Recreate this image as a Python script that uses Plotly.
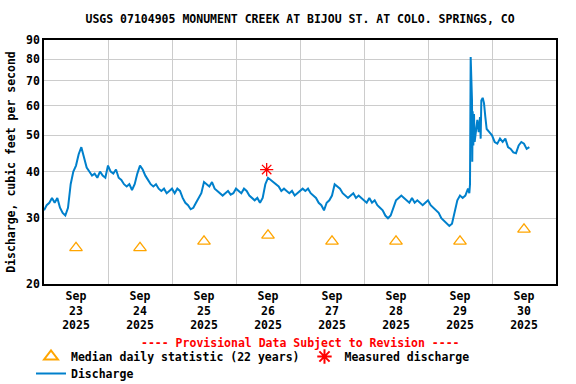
import numpy as np
import pandas as pd
import plotly.graph_objects as go

# ---- Data ----
base_time = pd.Timestamp("2025-09-23 00:00")

# hours after Sep 23 00:00 for each discharge reading
discharge_hours = (list(range(160))
                   + [159.5, 159.75, 160.0, 160.25, 160.5, 160.6, 160.75, 161.0, 161.25,
                      161.5, 162, 162.5, 163, 163.5, 163.75, 164, 164.5, 165, 165.5]
                   + list(range(166, 183)))

discharge_cfs = [
    31.5, 32.5, 33, 34, 33, 34, 32, 31, 30.5, 32,
    37, 40, 41.5, 44.5, 46.5, 44, 41, 40, 39, 39.5,
    38.5, 40, 39, 38.5, 41.5, 40, 39.5, 40.5, 38.5, 38,
    37, 36.5, 37, 35.7, 37, 39.5, 41.5, 40.5, 39, 38,
    37, 36.5, 37, 36, 35.5, 36, 35, 35.5, 36, 35,
    36, 35.5, 34, 33, 32.5, 31.7, 32, 33, 34, 35,
    37.5, 37, 36.5, 37.5, 36, 35.5, 35, 34.5, 35, 35.5,
    34.7, 35, 36, 35.5, 35, 36, 35.5, 34.5, 34, 33.5,
    34, 33, 34, 37, 38.5, 38, 37.5, 37, 36.5, 35.5,
    36, 35.5, 35, 35.5, 34.5, 35, 35.5, 36, 35.5, 36,
    35, 34.5, 34, 33, 32.5, 31.5, 33, 33.5, 34.5, 37,
    36.5, 36, 35, 34.5, 34, 34.5, 35, 34, 34.5, 34,
    33.5, 33, 34, 33, 33.5, 32.5, 32, 31.5, 30.5, 30,
    30.5, 32, 33.5, 34, 34.5, 34, 33.5, 33, 34, 33,
    33.5, 33, 32.5, 33, 33.5, 32.5, 32, 31.5, 31, 30,
    29.5, 29, 28.6, 29, 31, 33.5, 34.5, 34, 34.5, 36,
    # storm spike (sub-hourly)
    35, 37, 81, 66, 62, 42.5, 58, 47, 57, 48,
    52, 55, 51, 56, 49, 62, 63, 61, 56,
    # recession
    52, 51, 50, 48, 47.5, 49, 48, 49, 46.5, 46,
    45, 44.8, 47, 48, 47.5, 46, 46.5,
]

median_dates = ["2025-09-23 12:00", "2025-09-24 12:00", "2025-09-25 12:00", "2025-09-26 12:00",
                "2025-09-27 12:00", "2025-09-28 12:00", "2025-09-29 12:00", "2025-09-30 12:00"]
median_cfs = [25, 25, 26, 27, 26, 26, 26, 28]

measured_dates = ["2025-09-26 11:30"]
measured_cfs = [40.5]

label_dates = median_dates
label_text = ["Sep<br>23<br>2025", "Sep<br>24<br>2025", "Sep<br>25<br>2025", "Sep<br>26<br>2025",
              "Sep<br>27<br>2025", "Sep<br>28<br>2025", "Sep<br>29<br>2025", "Sep<br>30<br>2025"]
grid_dates = ["2025-09-23", "2025-09-24", "2025-09-25", "2025-09-26", "2025-09-27",
              "2025-09-28", "2025-09-29", "2025-09-30", "2025-10-01"]
y_ticks = [20, 30, 40, 50, 60, 70, 80, 90]

discharge_time = base_time + pd.to_timedelta(discharge_hours, unit="h")

FONT = "DejaVu Sans Mono"
fig = go.Figure()

fig.add_trace(go.Scatter(
    x=median_dates, y=median_cfs, mode="markers",
    name="Median daily statistic (22 years)", legend="legend",
    marker=dict(symbol="triangle-up-open", size=11, color="#FFA500", line=dict(width=1.3, color="#FFA500")),
))
fig.add_trace(go.Scatter(
    x=measured_dates, y=measured_cfs, mode="markers",
    name="Measured discharge", legend="legend",
    marker=dict(symbol="asterisk-open", size=11, color="red", line=dict(width=1.3, color="red")),
))
fig.add_trace(go.Scatter(
    x=discharge_time, y=discharge_cfs, mode="lines",
    name="Discharge", legend="legend2",
    line=dict(color="#0080CC", width=2),
))

legend_font = dict(family=FONT, size=11.5, color="black", weight="bold")
fig.update_layout(
    width=576, height=384,
    margin=dict(l=44, r=20, t=40, b=100, autoexpand=False),
    plot_bgcolor="white", paper_bgcolor="white",
    font=dict(family=FONT, size=11.5, color="black"),
    title=dict(text="<b>USGS 07104905 MONUMENT CREEK AT BIJOU ST. AT COLO. SPRINGS, CO</b>",
               x=0.521, xanchor="center", y=1 - 19 / 384, yanchor="middle",
               font=dict(family=FONT, size=11.5, color="black")),
    showlegend=True,
    legend=dict(orientation="h", xref="container", yref="container",
                x=31 / 576, xanchor="left", y=1 - 342 / 384, yanchor="top",
                font=legend_font, traceorder="normal", bgcolor="rgba(0,0,0,0)",
                itemsizing="constant"),
    legend2=dict(orientation="h", xref="container", yref="container",
                 x=31 / 576, xanchor="left", y=1 - 359 / 384, yanchor="top",
                 font=legend_font, bgcolor="rgba(0,0,0,0)", itemwidth=30),
    annotations=[dict(text="<b>---- Provisional Data Subject to Revision ----</b>",
                      xref="paper", yref="paper", x=0.5, y=-0.242, xanchor="center",
                      yanchor="middle", showarrow=False,
                      font=dict(family=FONT, size=11.5, color="red"))],
)

fig.update_xaxes(
    type="date", range=["2025-09-23", "2025-10-01"], automargin=False,
    tickmode="array", tickvals=label_dates, ticktext=label_text,
    showgrid=False, ticks="", zeroline=False,
    tickfont=dict(family=FONT, size=11.5, color="black", weight="bold"),
    minor=dict(tickmode="array", tickvals=grid_dates, showgrid=True, gridcolor="#cccccc",
               gridwidth=1, ticks=""),
    showline=True, linecolor="black", linewidth=1.5, mirror=True,
)
fig.update_yaxes(
    type="log", range=[np.log10(20), np.log10(90)], automargin=False,
    tickmode="array", tickvals=y_ticks, ticktext=[str(v) for v in y_ticks],
    showgrid=True, gridcolor="#cccccc", gridwidth=1, ticks="", zeroline=False,
    tickfont=dict(family=FONT, size=11.5, color="black", weight="bold"),
    title=dict(text="Discharge, cubic feet per second", standoff=8,
               font=dict(family=FONT, size=11.5, color="black", weight="bold")),
    showline=True, linecolor="black", linewidth=1.5, mirror=True,
)

fig.write_html("out.html", config={"displayModeBar": False},
               post_script="document.body.style.margin='0';")
